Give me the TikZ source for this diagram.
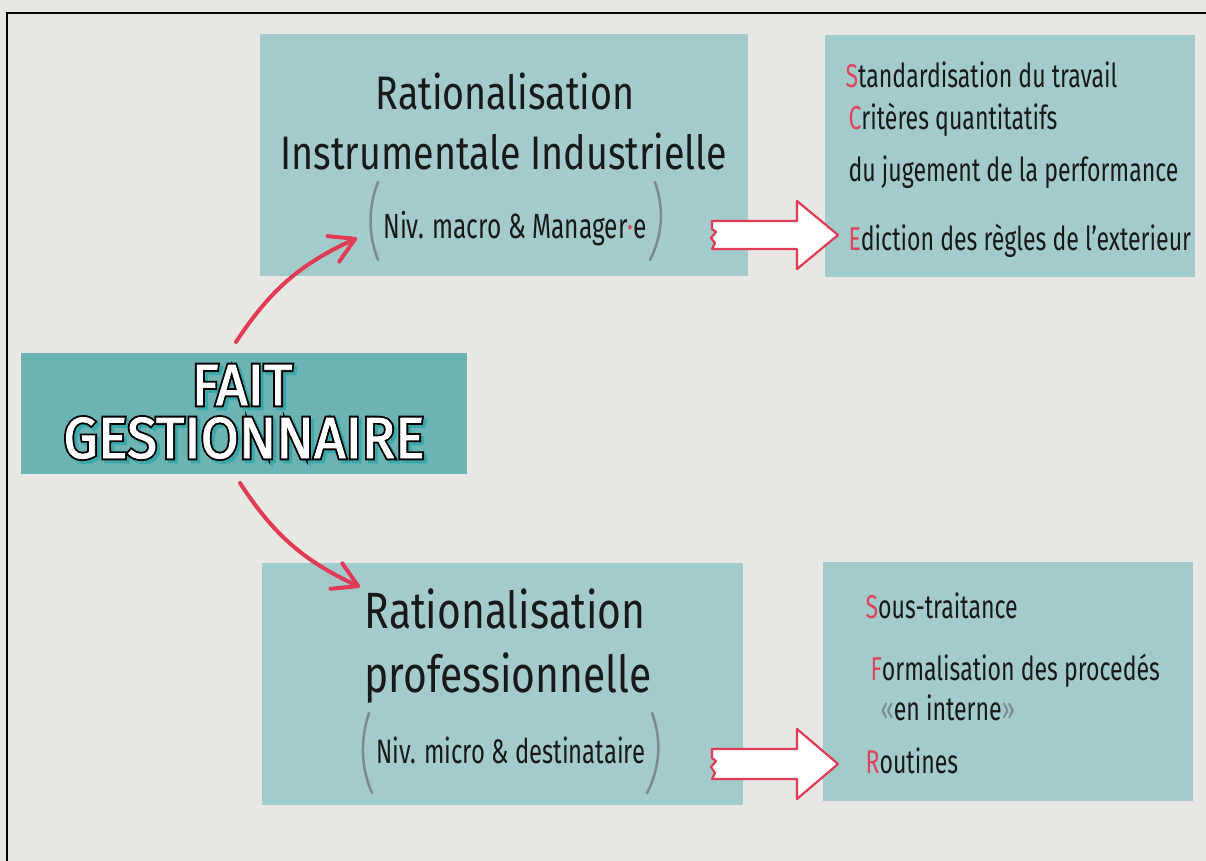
\documentclass[tikz,border=0pt]{standalone}
\usepackage{fontspec}
\setmainfont{Fira Sans}[FakeStretch=0.8]
\newfontfamily\listfont{Fira Sans}[FakeStretch=0.7]
\newfontfamily\faitfont{Fira Sans}[FakeStretch=0.95,FakeBold=1.5]
\newfontfamily\faitbold{Fira Sans}[FakeStretch=0.95,FakeBold=8]
\usetikzlibrary{arrows.meta,calc}

\definecolor{bgcol}{HTML}{E7E8E3}
\definecolor{boxcol}{HTML}{A3CBCC}
\definecolor{faitcol}{HTML}{6CB3B4}
\definecolor{shadowcol}{HTML}{3AA9AB}
\definecolor{arrowred}{HTML}{E23B55}
\definecolor{initred}{HTML}{E0455C}
\definecolor{parcol}{HTML}{7C8A90}

\newcommand{\redini}[1]{\textcolor{initred}{#1}}

\tikzset{
  box/.style={fill=boxcol, draw=none, inner sep=0pt},
  title/.style={anchor=base, font=\fontsize{47}{52}\selectfont, text=black!90},
  subtitle/.style={anchor=base, font=\listfont\fontsize{35}{40}\selectfont, text=black!90},
  item/.style={anchor=base west, font=\listfont\fontsize{33}{38}\selectfont, text=black!90},
  faittxt/.style={anchor=base, font=\faitfont\fontsize{58}{60}\selectfont},
  faitline/.style={anchor=base, font=\faitbold\fontsize{58}{60}\selectfont},
  redarrow/.style={arrowred, line width=4pt, line cap=round,
    -{Straight Barb[length=24pt,width=28pt,round]}},
  blockarrow/.style={fill=white, draw=arrowred, line width=2.2pt, line join=round},
  paren/.style={parcol, line width=2.5pt, line cap=round}
}

\newcommand{\outlinetext}[3]{%
  \node[faitline, text=shadowcol] at ($(#2)+(3,3)$) {#3};
  \node[faitline, text=black] at (#2) {#3};
  \node[faittxt, text=white] (#1) at (#2) {#3};}

\begin{document}
\begin{tikzpicture}[x=1pt,y=-1pt]
  \useasboundingbox (0,0) rectangle (1206,861);
  \fill[bgcol] (0,0) rectangle (1206,861);
  \draw[line width=2.5pt] (7,861) -- (7,13) -- (1206,13);

  % boxes
  \node[box, minimum width=488pt, minimum height=242pt] (rii) at (504,155) {};
  \node[box, minimum width=370pt, minimum height=242pt] (riilist) at (1010,156) {};
  \node[box, minimum width=481pt, minimum height=242pt] (rp) at (502.5,684) {};
  \node[box, minimum width=370pt, minimum height=239pt] (rplist) at (1008,681.5) {};
  \node[box, fill=faitcol, minimum width=446pt, minimum height=121pt] (fait) at (244,413.5) {};

  % FAIT GESTIONNAIRE
  \coordinate (faitA) at (242,405);
  \coordinate (faitB) at (244,458);
  \outlinetext{faittop}{faitA}{FAIT}
  \outlinetext{faitbot}{faitB}{GESTIONNAIRE}

  % top branch
  \node[title] (riiA) at (505,110) {Rationalisation};
  \node[title] (riiB) at (504,170) {Instrumentale Industrielle};
  \node[subtitle] (riiC) at (515,238) {Niv. macro \& Manager\textcolor{initred}{·}e};
  \draw[paren] (378,182) .. controls (368,208) and (368,234) .. (378,260);
  \draw[paren] (655,182) .. controls (664,208) and (663,234) .. (650,260);

  \node[item] (s1) at (842,88) {\redini{S}tandardisation du travail};
  \node[item] (s2) at (845,130) {\redini{C}ritères quantitatifs};
  \node[item] (s3) at (845,182) {du jugement de la performance};
  \node[item] (s4) at (845,250) {\redini{E}diction des règles de l’exterieur};

  % bottom branch
  \node[title, font=\fontsize{51}{56}\selectfont] (rpA) at (505,628) {Rationalisation};
  \node[title, font=\fontsize{51}{56}\selectfont] (rpB) at (508,692) {professionnelle};
  \node[subtitle, font=\listfont\fontsize{34}{40}\selectfont] (rpC) at (511,763) {Niv. micro \& destinataire};
  \draw[paren] (369,713) .. controls (360,740) and (361,768) .. (372,793);
  \draw[paren] (652,713) .. controls (662,740) and (660,768) .. (647,793);

  \node[item] (p1) at (862,618) {\redini{S}ous-traitance};
  \node[item] (p2) at (867,680) {\redini{F}ormalisation des procedés};
  \node[item] (p3) at (877,720) {\textcolor{parcol}{«}en interne\textcolor{parcol}{»}};
  \node[item] (p4) at (862,773) {\redini{R}outines};

  % arrows
  \coordinate (up0) at (236,342);
  \coordinate (up1) at (357,238);
  \draw[redarrow] (up0) to[bend left=16] (up1);
  \coordinate (dn0) at (240,483);
  \coordinate (dn1) at (360,587);
  \draw[redarrow] (dn0) to[bend right=16] (dn1);

  \coordinate (bt1) at (712,235);
  \draw[blockarrow] (bt1) ++(0,-14) -- ++(85,0) -- ++(0,-20) -- ++(41,34) -- ++(-41,34)
    -- ++(0,-20) -- ++(-85,0) -- ++(3,-6) -- ++(-4,-5) -- ++(5,-6) -- ++(-4,-3) -- cycle;
  \coordinate (bt2) at (712,764);
  \draw[blockarrow] (bt2) ++(0,-15) -- ++(85,0) -- ++(0,-20) -- ++(41,35) -- ++(-41,35)
    -- ++(0,-20) -- ++(-85,0) -- ++(3,-6) -- ++(-4,-6) -- ++(5,-6) -- ++(-4,-3) -- cycle;
\end{tikzpicture}
\end{document}
